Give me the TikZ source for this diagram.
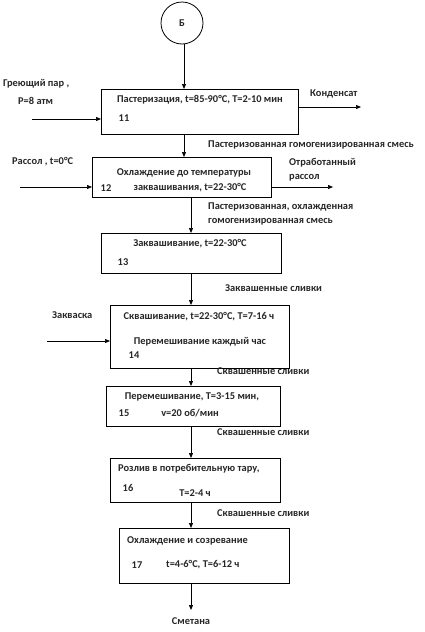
\documentclass[tikz,border=0pt]{standalone}
\usepackage{fontspec}
\setmainfont{Carlito}
\usetikzlibrary{arrows.meta}
\begin{document}
\begin{tikzpicture}[x=1pt,y=-1pt,
  box/.style={draw, line width=0.8pt, anchor=north west, inner sep=0pt},
  lbl/.style={font=\fontsize{10.4}{12}\selectfont\bfseries, inner sep=0pt, text=black!85},
  arr/.style={line width=0.7pt, -{Triangle[length=5pt,width=4pt]}}]
\useasboundingbox (0,0) rectangle (424,632);
% circle
\node[draw, circle, line width=0.8pt, minimum size=42pt, inner sep=0pt] (b) at (182,23) {};
\node[lbl] at (182,23) {Б};
% boxes
\node[box, minimum width=197pt, minimum height=45pt] (b11) at (101,89) {};
\node[box, minimum width=179pt, minimum height=40pt] (b12) at (92,157) {};
\node[box, minimum width=180pt, minimum height=40pt] (b13) at (101,233) {};
\node[box, minimum width=179pt, minimum height=63pt] (b14) at (110,305) {};
\node[box, minimum width=174pt, minimum height=40pt] (b15) at (106,386) {};
\node[box, minimum width=170pt, minimum height=44pt] (b16) at (110,458) {};
\node[box, minimum width=170pt, minimum height=55pt] (b17) at (119,528) {};
% x positions of vertical flows
\coordinate (xa) at (184,0);
\coordinate (xb) at (191,0);
% box texts
\node[lbl] (t11) at (200,100) {Пастеризация, t=85-90°C, T=2-10 мин};
\node[lbl] (n11) at (124,118) {11};
\node[lbl] (t12a) at (184,173) {Охлаждение до температуры};
\node[lbl] (t12b) at (190,188) {заквашивания, t=22-30°C};
\node[lbl] (n12) at (106,188) {12};
\node[lbl] (t13) at (190,244) {Заквашивание, t=22-30°C};
\node[lbl] (n13) at (123,262) {13};
\node[lbl] (t14a) at (199,317) {Сквашивание, t=22-30°C, T=7-16 ч};
\node[lbl] (t14b) at (200,342) {Перемешивание каждый час};
\node[lbl] (n14) at (134,355) {14};
\node[lbl] (t15a) at (192,397) {Перемешивание, T=3-15 мин,};
\node[lbl] (t15b) at (190,413) {v=20 об/мин};
\node[lbl] (n15) at (124,413) {15};
\node[lbl, anchor=west] (t16a) at (118,469) {Розлив в потребительную тару,};
\node[lbl] (t16b) at (195,493) {T=2-4 ч};
\node[lbl] (n16) at (128,488) {16};
\node[lbl, anchor=west] (t17a) at (127,541) {Охлаждение и созревание};
\node[lbl] (n17) at (137,565) {17};
\node[lbl, anchor=west] (t17b) at (166,565) {t=4-6°C, T=6-12 ч};
% side labels
\node[lbl, anchor=west] (gp1) at (3,84) {Греющий пар ,};
\node[lbl, anchor=west] (gp2) at (18,101) {P=8 атм};
\node[lbl, anchor=west] (kond) at (310,94) {Конденсат};
\node[lbl, anchor=west] (ras) at (12,162) {Рассол , t=0°C};
\node[lbl, anchor=west] (otr1) at (289,163) {Отработанный};
\node[lbl, anchor=west] (otr2) at (289,178) {рассол};
\node[lbl, anchor=west] (zakv) at (52,315) {Закваска};
% flow labels
\node[lbl, anchor=west] (f1) at (208,145) {Пастеризованная гомогенизированная смесь};
\node[lbl, anchor=west] (f2a) at (208,207) {Пастеризованная, охлажденная};
\node[lbl, anchor=west] (f2b) at (208,222) {гомогенизированная смесь};
\node[lbl, anchor=west] (f3) at (225,288) {Заквашенные сливки};
\node[lbl, anchor=west] (f4) at (217,371) {Сквашенные сливки};
\node[lbl, anchor=west] (f5) at (217,432) {Сквашенные сливки};
\node[lbl, anchor=west] (f6) at (217,513) {Сквашенные сливки};
\node[lbl] (sm) at (191,621) {Сметана};
% side arrow ends
\coordinate (s1) at (32,119);
\coordinate (s2) at (361,107);
\coordinate (s3) at (20,187);
\coordinate (s4) at (333,187);
\coordinate (s5) at (47,341);
\coordinate (s6) at (191,610);
% arrows
\draw[arr] (b.south -| xa) -- (b11.north -| xa);
\draw[arr] (b11.south -| xa) -- (b12.north -| xa);
\draw[arr] (b12.south -| xb) -- (b13.north -| xb);
\draw[arr] (b13.south -| xb) -- (b14.north -| xb);
\draw[arr] (b14.south -| xb) -- (b15.north -| xb);
\draw[arr] (b15.south -| xb) -- (b16.north -| xb);
\draw[arr] (b16.south -| xb) -- (b17.north -| xb);
\draw[arr] (b17.south -| xb) -- (s6);
\draw[arr] (s1) -- (s1 -| b11.west);
\draw[arr] (s2 -| b11.east) -- (s2);
\draw[arr] (s3) -- (s3 -| b12.west);
\draw[arr] (s4 -| b12.east) -- (s4);
\draw[arr] (s5) -- (s5 -| b14.west);
\end{tikzpicture}
\end{document}
